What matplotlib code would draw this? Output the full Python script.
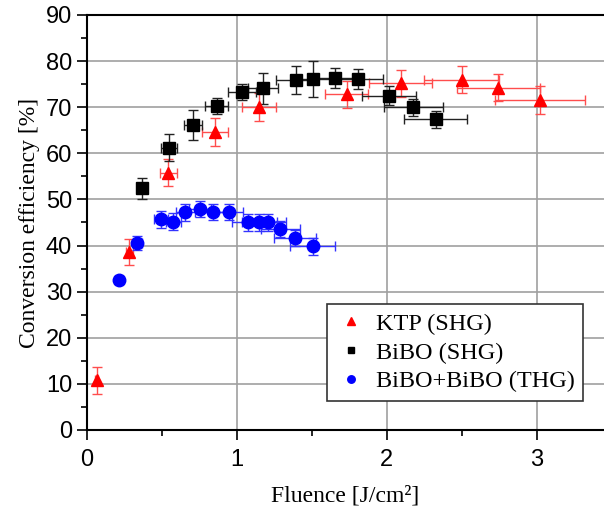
import numpy as np
import matplotlib
matplotlib.use('Agg')
from matplotlib import pyplot as plt
from matplotlib.ticker import MultipleLocator

# KTP (SHG)
ktp_x = [0.067, 0.284, 0.544, 0.855, 1.15, 1.733, 2.095, 2.50, 2.744, 3.022]
ktp_y = [10.8, 38.6, 55.8, 64.6, 70.0, 72.8, 75.2, 76.0, 74.2, 71.6]
ktp_xerr = [0.01, 0.025, 0.055, 0.087, 0.115, 0.145, 0.21, 0.248, 0.275, 0.303]
ktp_yerr = [2.9, 2.9, 2.9, 3.0, 3.0, 2.9, 2.9, 2.95, 2.95, 3.0]

# BiBO (SHG)
bibo_x = [0.367, 0.551, 0.707, 0.867, 1.037, 1.173, 1.393, 1.511, 1.655, 1.811, 2.015, 2.178, 2.327]
bibo_y = [52.4, 61.2, 66.1, 70.3, 73.3, 74.1, 75.9, 76.1, 76.4, 76.1, 72.5, 70.0, 67.4]
bibo_xerr = [0.03, 0.053, 0.06, 0.077, 0.095, 0.10, 0.13, 0.14, 0.15, 0.163, 0.18, 0.196, 0.21]
bibo_yerr = [2.2, 2.9, 3.2, 1.8, 1.7, 3.3, 3.0, 3.9, 2.2, 2.2, 2.0, 1.8, 1.8]

# BiBO+BiBO (THG)
thg_x = [0.217, 0.337, 0.493, 0.577, 0.657, 0.755, 0.844, 0.949, 1.077, 1.151, 1.207, 1.289, 1.389, 1.507]
thg_y = [32.5, 40.6, 45.7, 45.2, 47.2, 47.9, 47.3, 47.3, 45.0, 45.0, 45.0, 43.6, 41.6, 39.8]
thg_xerr = [0.02, 0.03, 0.047, 0.05, 0.065, 0.075, 0.085, 0.095, 0.105, 0.115, 0.12, 0.13, 0.14, 0.15]
thg_yerr = [0.9, 1.5, 1.8, 1.8, 1.8, 1.8, 1.8, 1.8, 1.8, 1.8, 1.8, 1.8, 1.8, 1.8]

plt.rcParams['font.family'] = 'Liberation Sans'
serif = 'Liberation Serif'

fig = plt.figure(figsize=(6.04, 5.17), dpi=100)
ax = fig.add_axes([86.7 / 604, 87 / 517, 517.5 / 604, 415 / 517])

ax.errorbar(ktp_x, ktp_y, xerr=ktp_xerr, yerr=ktp_yerr, fmt='^', color='red', ms=9,
            elinewidth=1, capsize=3.5, capthick=1, ecolor=(1, 0.3, 0.3), label='KTP (SHG)', zorder=3)
ax.errorbar(bibo_x, bibo_y, xerr=bibo_xerr, yerr=bibo_yerr, fmt='s', color='black', ms=8,
            elinewidth=1, capsize=3.5, capthick=1, ecolor='#222222', label='BiBO (SHG)', zorder=3)
ax.errorbar(thg_x, thg_y, xerr=thg_xerr, yerr=thg_yerr, fmt='o', color='blue', ms=9,
            elinewidth=1, capsize=3.5, capthick=1, ecolor='#3333ff', label='BiBO+BiBO (THG)', zorder=3)

ax.set_xlim(0, 3.45)
ax.set_ylim(0, 90)
ax.xaxis.set_major_locator(MultipleLocator(1))
ax.xaxis.set_minor_locator(MultipleLocator(0.5))
ax.yaxis.set_major_locator(MultipleLocator(10))
ax.yaxis.set_minor_locator(MultipleLocator(5))
ax.grid(True, which='major', color='#a0a0a0', lw=1.2)
ax.set_axisbelow(True)
ax.tick_params(which='major', direction='out', length=7, width=1.2, labelsize=17)
ax.tick_params(axis='x', which='major', pad=7)
ax.tick_params(which='minor', direction='out', length=4, width=1.2)
ax.spines['right'].set_visible(False)
for s in ['left', 'bottom', 'top']:
    ax.spines[s].set_linewidth(1.5)

ax.set_xlabel('Fluence [J/cm²]', fontfamily=serif, fontsize=17, labelpad=10)
ax.set_ylabel('Conversion efficiency [%]', fontfamily=serif, fontsize=17, labelpad=4)

handles, labels = ax.get_legend_handles_labels()
handles = [h[0] for h in handles]
leg = ax.legend(handles, labels, loc='lower right', bbox_to_anchor=(0.959, 0.07),
                borderaxespad=0, prop={'family': serif, 'size': 17.5}, fancybox=False,
                framealpha=1, edgecolor='#333333', markerscale=0.6, handlelength=1.3,
                handletextpad=0.37, borderpad=0.35, labelspacing=0.28)
leg.get_frame().set_linewidth(1.2)

fig.savefig('out.png', dpi=100)
